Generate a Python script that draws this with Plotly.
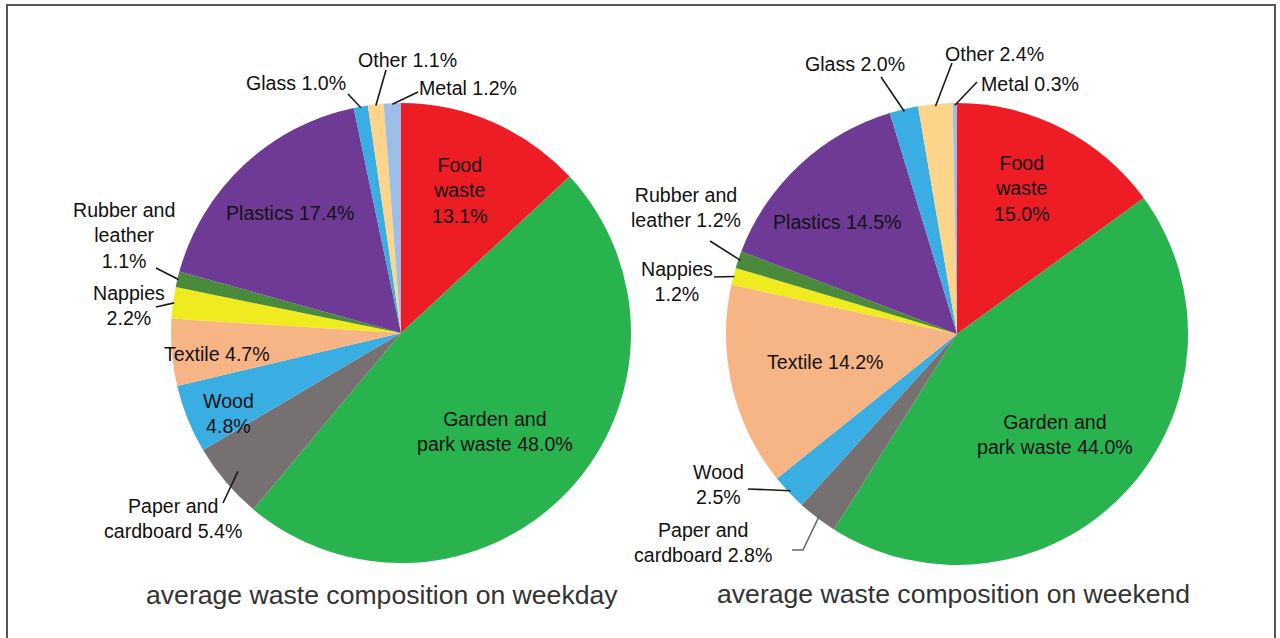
import math
import plotly.graph_objects as go

# ---------------- data ----------------
categories = ["Food waste", "Garden and park waste", "Paper and cardboard", "Wood",
              "Textile", "Nappies", "Rubber and leather", "Plastics", "Glass", "Other", "Metal"]
weekday_values = [13.1, 48.0, 5.4, 4.8, 4.7, 2.2, 1.1, 17.4, 1.0, 1.1, 1.2]
weekend_values = [15.0, 44.0, 2.8, 2.5, 14.2, 1.2, 1.2, 14.5, 2.0, 2.4, 0.3]
titles = ["average waste composition on weekday", "average waste composition on weekend"]

# label text templates (name part) – value appended from data
weekday_names = ["Food<br>waste<br>", "Garden and<br>park waste ", "Paper and<br>cardboard ",
                 "Wood<br>", "Textile ", "Nappies<br>", "Rubber and<br>leather<br>",
                 "Plastics ", "Glass ", "Other ", "Metal "]
weekend_names = ["Food<br>waste<br>", "Garden and<br>park waste ", "Paper and<br>cardboard ",
                 "Wood<br>", "Textile ", "Nappies<br>", "Rubber and<br>leather ",
                 "Plastics ", "Glass ", "Other ", "Metal "]

colors = ["#EE1C25", "#29B34F", "#767170", "#3AADE2", "#F7B585", "#F0EB1E",
          "#4A8A3B", "#6F3A96", "#3AADE2", "#FDD58A", "#9DBEE6"]

# ---------------- layout / style ----------------
W, H = 1280, 638
geom = [dict(cx=401, cy=333, r=230), dict(cx=957, cy=334, r=231)]

# text positions (pixels) for each label
weekday_text_pos = [(460, 190), (495, 431), (173, 518), (228, 413), (217, 354), (129, 306),
                    (124, 235), (290, 213), (296, 83), (407, 60), (468, 88)]
weekend_text_pos = [(1022, 189), (1055, 434), (703, 542), (718, 484), (825, 362), (677, 281),
                    (686, 208), (837, 222), (855, 64), (994, 54), (1030, 84)]
# outer end of leader line (pixels); None = inside label
weekday_leader = [None, None, (223, 503), None, None, (156, 307), (156, 268), None,
                  (348, 94), (386, 70), (418, 92)]
weekend_leader = [None, None, [(792, 550), (803, 550)], (748, 489), None, (714, 277),
                  (710, 241), None, (881, 77), (952, 63), (977, 82)]
# radial fraction where leader line meets slice
weekday_leader_rf = [1, 1, 0.93, 1, 1, 0.995, 0.995, 1, 0.995, 0.995, 0.995]
weekend_leader_rf = [1, 1, 0.98, 0.99, 1, 0.995, 0.99, 1, 0.99, 0.99, 0.99]

FONT = "Arial, Liberation Sans, sans-serif"


def px2paper(x, y):
    return x / W, 1 - y / H


def edge_point(g, values, i, rf=1.0):
    tot = sum(values)
    before = sum(values[:i])
    mid = (before + values[i] / 2) / tot * 2 * math.pi
    return g["cx"] + g["r"] * rf * math.sin(mid), g["cy"] - g["r"] * rf * math.cos(mid)


fig = go.Figure()
annotations = []
shapes = []

datasets = [(weekday_values, weekday_names, weekday_text_pos, weekday_leader, weekday_leader_rf),
            (weekend_values, weekend_names, weekend_text_pos, weekend_leader, weekend_leader_rf)]

for k, (vals, names, tpos, leaders, rfs) in enumerate(datasets):
    g = geom[k]
    dx = [(g["cx"] - g["r"]) / W, (g["cx"] + g["r"]) / W]
    dy = [1 - (g["cy"] + g["r"]) / H, 1 - (g["cy"] - g["r"]) / H]
    fig.add_trace(go.Pie(
        labels=categories, values=vals, sort=False, direction="clockwise", rotation=0,
        marker=dict(colors=colors, line=dict(width=0)),
        textinfo="none", hoverinfo="label+percent", showlegend=False,
        domain=dict(x=dx, y=dy),
    ))
    for i in range(len(vals)):
        x, y = px2paper(*tpos[i])
        annotations.append(dict(
            x=x, y=y, xref="paper", yref="paper", xanchor="center", yanchor="middle",
            text=f"{names[i]}{vals[i]:.1f}%", showarrow=False, align="center",
            font=dict(family=FONT, size=19.6, color="#111111")))
        ld = leaders[i]
        if ld is None:
            continue
        ex, ey = edge_point(g, vals, i, rfs[i])
        if isinstance(ld, list):
            pts = ld + [(ex, ey)]
            path = "M " + " L ".join(f"{px2paper(a, b)[0]:.5f},{px2paper(a, b)[1]:.5f}" for a, b in pts)
            shapes.append(dict(type="path", xref="paper", yref="paper", path=path,
                               line=dict(color="#666666", width=1.6)))
        else:
            x0, y0 = px2paper(*ld)
            x1, y1 = px2paper(ex, ey)
            shapes.append(dict(type="line", xref="paper", yref="paper", x0=x0, y0=y0, x1=x1, y1=y1,
                               line=dict(color="#1a1a1a", width=1.6)))

# titles
title_pos = [(382, 595), (953, 594)]
for t, (x, y) in zip(titles, title_pos):
    px, py = px2paper(x, y)
    annotations.append(dict(x=px, y=py, xref="paper", yref="paper", xanchor="center", yanchor="middle",
                            text=t, showarrow=False,
                            font=dict(family=FONT, size=26.6, color="#333333")))

# border frame
shapes.append(dict(type="rect", xref="paper", yref="paper",
                   x0=7 / W, y0=1 - 648 / H, x1=1275 / W, y1=1 - 5 / H,
                   line=dict(color="#555555", width=2), fillcolor="rgba(0,0,0,0)"))

fig.update_layout(
    width=W, height=H, margin=dict(l=0, r=0, t=0, b=0),
    paper_bgcolor="white", plot_bgcolor="white",
    annotations=annotations, shapes=shapes,
)

fig.write_html("out.html", config={"displayModeBar": False},
               post_script="document.body.style.margin='0px';")
